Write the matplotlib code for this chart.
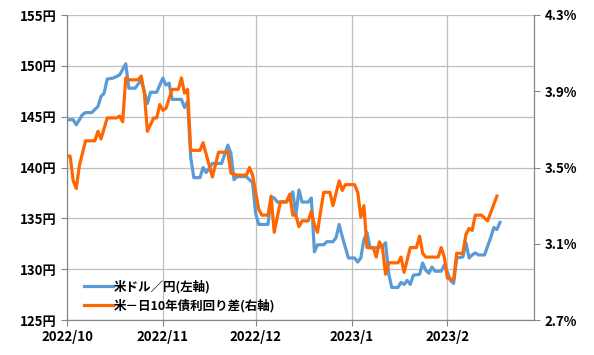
import matplotlib.pyplot as plt
import pandas as pd

plt.rcParams["font.family"] = ["Noto Sans CJK JP", "DejaVu Sans"]

# USD/JPY (left axis)
usd_dates = [
    "2022-10-01", "2022-10-03", "2022-10-04", "2022-10-06", "2022-10-07", "2022-10-09",
    "2022-10-10", "2022-10-11", "2022-10-12", "2022-10-13", "2022-10-14", "2022-10-16",
    "2022-10-18", "2022-10-20", "2022-10-21", "2022-10-23", "2022-10-25", "2022-10-27",
    "2022-10-28", "2022-10-30", "2022-11-01", "2022-11-02", "2022-11-03", "2022-11-04",
    "2022-11-07", "2022-11-08", "2022-11-09", "2022-11-10", "2022-11-11", "2022-11-13",
    "2022-11-14", "2022-11-15", "2022-11-17", "2022-11-20", "2022-11-22", "2022-11-23",
    "2022-11-24", "2022-11-25", "2022-11-28", "2022-11-30", "2022-12-01", "2022-12-02",
    "2022-12-05", "2022-12-06", "2022-12-07", "2022-12-08", "2022-12-11", "2022-12-13",
    "2022-12-14", "2022-12-15", "2022-12-16", "2022-12-18", "2022-12-19", "2022-12-20",
    "2022-12-21", "2022-12-23", "2022-12-24", "2022-12-26", "2022-12-27", "2022-12-28",
    "2022-12-29", "2022-12-31", "2023-01-02", "2023-01-03", "2023-01-04", "2023-01-05",
    "2023-01-06", "2023-01-07", "2023-01-09", "2023-01-11", "2023-01-12", "2023-01-13",
    "2023-01-14", "2023-01-16", "2023-01-17", "2023-01-18", "2023-01-19", "2023-01-20",
    "2023-01-21", "2023-01-23", "2023-01-24", "2023-01-25", "2023-01-26", "2023-01-27",
    "2023-01-28", "2023-01-30", "2023-01-31", "2023-02-01", "2023-02-02", "2023-02-03",
    "2023-02-04", "2023-02-06", "2023-02-07", "2023-02-08", "2023-02-09", "2023-02-10",
    "2023-02-11", "2023-02-13", "2023-02-15", "2023-02-16", "2023-02-17", "2023-02-18",
]
usd_jpy = [
    144.7, 144.7, 144.2, 145.2, 145.4, 145.4,
    145.7, 146.0, 147.0, 147.3, 148.7, 148.8,
    149.1, 150.2, 147.8, 147.8, 148.6, 146.3,
    147.4, 147.4, 148.8, 148.1, 148.3, 146.7,
    146.7, 145.9, 146.5, 141.0, 139.0, 139.0,
    140.0, 139.5, 140.4, 140.4, 142.2, 141.4,
    138.8, 139.1, 139.1, 138.5, 135.5, 134.4,
    134.4, 137.1, 137.0, 136.6, 136.6, 137.6,
    135.3, 137.8, 136.6, 136.6, 137.0, 131.7,
    132.4, 132.4, 132.7, 132.7, 133.1, 134.4,
    133.2, 131.1, 131.1, 130.7, 131.1, 132.9,
    133.6, 132.1, 132.1, 132.2, 132.6, 129.6,
    128.2, 128.2, 128.7, 128.5, 128.9, 128.5,
    129.4, 129.5, 130.6, 129.9, 129.6, 130.2,
    129.8, 129.8, 130.4, 129.7, 128.9, 128.6,
    131.1, 131.2, 132.6, 131.1, 131.4, 131.6,
    131.4, 131.4, 133.1, 134.1, 133.9, 134.6,
]

# US-Japan 10y yield spread (right axis, %)
spread_dates = [
    "2022-10-01", "2022-10-02", "2022-10-03", "2022-10-04", "2022-10-05", "2022-10-07",
    "2022-10-10", "2022-10-11", "2022-10-12", "2022-10-14", "2022-10-17", "2022-10-18",
    "2022-10-19", "2022-10-20", "2022-10-21", "2022-10-24", "2022-10-25", "2022-10-26",
    "2022-10-27", "2022-10-29", "2022-10-30", "2022-10-31", "2022-11-01", "2022-11-02",
    "2022-11-04", "2022-11-06", "2022-11-07", "2022-11-08", "2022-11-09", "2022-11-10",
    "2022-11-13", "2022-11-14", "2022-11-17", "2022-11-19", "2022-11-21", "2022-11-22",
    "2022-11-23", "2022-11-25", "2022-11-28", "2022-11-29", "2022-11-30", "2022-12-02",
    "2022-12-03", "2022-12-05", "2022-12-06", "2022-12-07", "2022-12-09", "2022-12-11",
    "2022-12-12", "2022-12-13", "2022-12-14", "2022-12-15", "2022-12-16", "2022-12-18",
    "2022-12-19", "2022-12-20", "2022-12-21", "2022-12-22", "2022-12-23", "2022-12-25",
    "2022-12-26", "2022-12-28", "2022-12-29", "2022-12-30", "2023-01-02", "2023-01-03",
    "2023-01-04", "2023-01-05", "2023-01-06", "2023-01-08", "2023-01-09", "2023-01-10",
    "2023-01-11", "2023-01-12", "2023-01-13", "2023-01-16", "2023-01-17", "2023-01-18",
    "2023-01-20", "2023-01-22", "2023-01-23", "2023-01-24", "2023-01-25", "2023-01-29",
    "2023-01-30", "2023-01-31", "2023-02-01", "2023-02-03", "2023-02-04", "2023-02-06",
    "2023-02-07", "2023-02-08", "2023-02-09", "2023-02-10", "2023-02-12", "2023-02-14",
    "2023-02-17",
]
spread = [
    3.56, 3.56, 3.43, 3.39, 3.51, 3.64,
    3.64, 3.69, 3.65, 3.76, 3.76, 3.77,
    3.74, 3.97, 3.96, 3.96, 3.98, 3.89,
    3.69, 3.76, 3.76, 3.83, 3.80, 3.81,
    3.91, 3.91, 3.97, 3.89, 3.91, 3.59,
    3.59, 3.63, 3.45, 3.58, 3.58, 3.58,
    3.47, 3.46, 3.46, 3.50, 3.46, 3.28,
    3.25, 3.25, 3.35, 3.16, 3.32, 3.32,
    3.36, 3.25, 3.25, 3.19, 3.22, 3.22,
    3.27, 3.20, 3.16, 3.27, 3.37, 3.37,
    3.30, 3.43, 3.38, 3.41, 3.41, 3.37,
    3.24, 3.30, 3.08, 3.08, 3.03, 3.11,
    3.08, 2.94, 3.00, 3.00, 3.03, 2.95,
    3.08, 3.08, 3.14, 3.05, 3.03, 3.03,
    3.08, 3.03, 2.92, 2.91, 3.05, 3.05,
    3.15, 3.18, 3.17, 3.25, 3.25, 3.22,
    3.35,
]

left_ticks = [125, 130, 135, 140, 145, 150, 155]
right_ticks = [2.7, 3.1, 3.5, 3.9, 4.3]
month_ticks = ["2022-10-01", "2022-11-01", "2022-12-01", "2023-01-01", "2023-02-01"]
month_labels = ["2022/10", "2022/11", "2022/12", "2023/1", "2023/2"]

fig = plt.figure(figsize=(5.94, 3.55), dpi=100)
ax = fig.add_axes([67 / 594, 35 / 355, 467 / 594, 305 / 355])
ax2 = ax.twinx()

l1, = ax.plot(pd.to_datetime(usd_dates), usd_jpy, color="#5B9BD5", lw=2.3,
              label="米ドル／円(左軸)", solid_joinstyle="round")
l2, = ax2.plot(pd.to_datetime(spread_dates), spread, color="#FF6600", lw=2.3,
               label="米－日10年債利回り差(右軸)", solid_joinstyle="round")

ax.set_xlim(pd.Timestamp("2022-10-01"), pd.Timestamp("2023-03-01"))
ax.set_ylim(125, 155)
ax2.set_ylim(2.7, 4.3)

ax.set_yticks(left_ticks)
ax.set_yticklabels([f"{v}円" for v in left_ticks])
ax2.set_yticks(right_ticks)
ax2.set_yticklabels([f"{v:.1f}%" for v in right_ticks])
ax.set_xticks(pd.to_datetime(month_ticks))
ax.set_xticklabels(month_labels)

ax.grid(True, color="#BFBFBF", lw=0.9)
ax.set_axisbelow(True)

for a in (ax, ax2):
    a.spines["top"].set_visible(False)
    for s in ("left", "right", "bottom"):
        a.spines[s].set_color("#868686")
    a.tick_params(colors="#868686", labelcolor="black", length=4, labelsize=9.5)
for lab in ax.get_xticklabels() + ax.get_yticklabels() + ax2.get_yticklabels():
    lab.set_fontweight("bold")

leg = ax.legend(handles=[l1, l2], loc="lower left", bbox_to_anchor=(0.012, -0.012),
                frameon=False, prop={"weight": "bold", "size": 9},
                handlelength=2.3, labelspacing=0.45, handletextpad=0.1)

fig.savefig("out.png", dpi=100)
